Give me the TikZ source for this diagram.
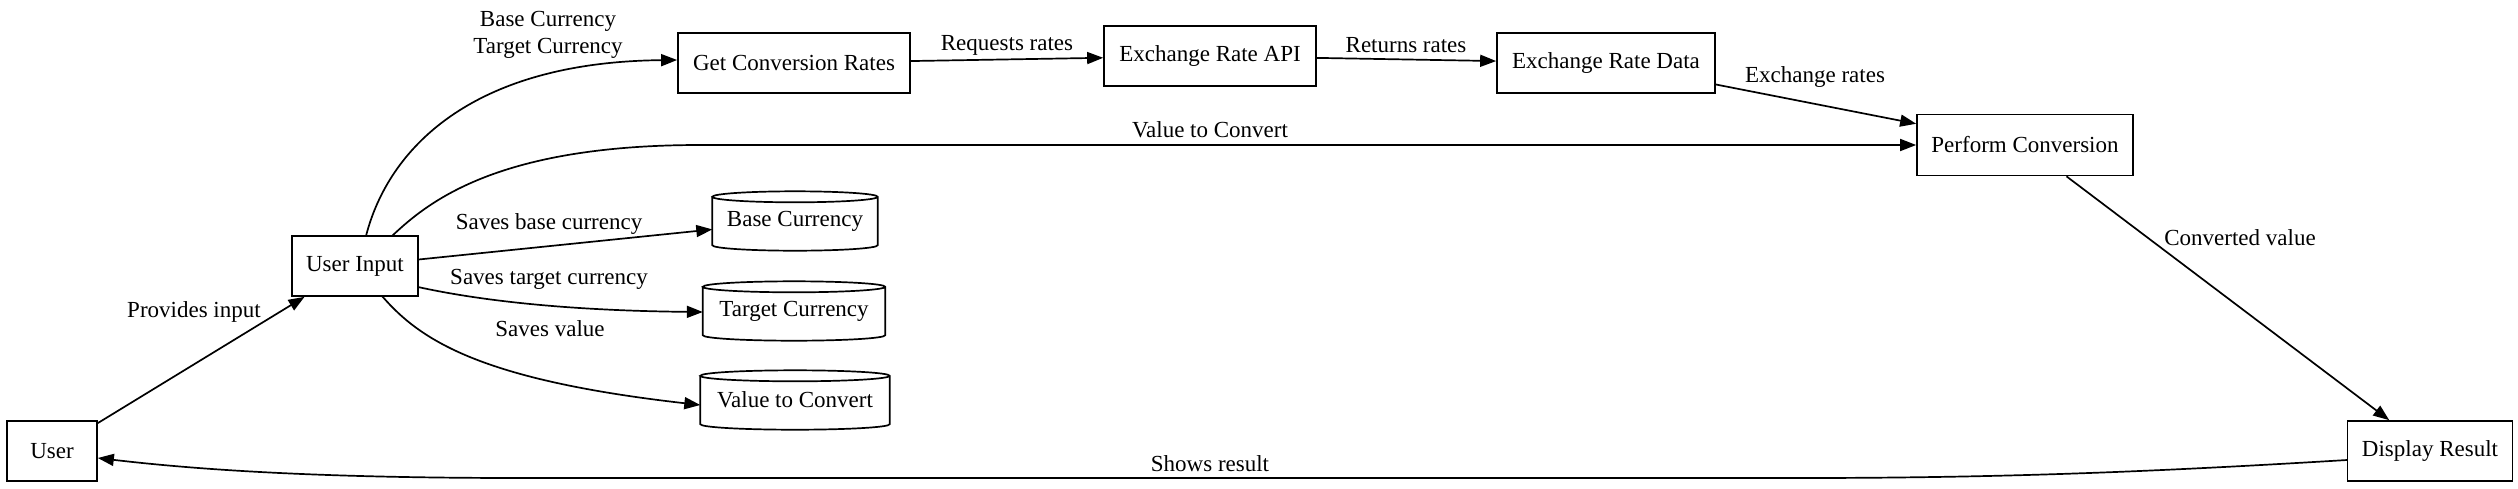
\documentclass[tikz,border=0pt]{standalone}
\usepackage{fontspec}
\setmainfont{Liberation Serif}
\usetikzlibrary{arrows.meta,calc}
\begin{document}
\begin{tikzpicture}[x=1pt,y=-1pt,
  every node/.style={font=\fontsize{23}{27}\selectfont, inner sep=0pt},
  box/.style={draw, line width=1.7pt, minimum height=60pt},
  store/.style={minimum height=59pt},
  lbl/.style={fill=none, align=center},
  edge/.style={line width=1.7pt, -{Triangle[length=16pt,width=12pt]}}]
\useasboundingbox (0,0) rectangle (2518,488);
% nodes
\node[box, minimum width=90pt]  (user) at (52,451) {User};
\node[box, minimum width=126pt] (ui)   at (355,266) {User Input};
\node[box, minimum width=232pt] (gcr)  at (794,63) {Get Conversion Rates};
\node[box, minimum width=212pt] (api)  at (1210,56) {Exchange Rate API};
\node[box, minimum width=218pt] (erd)  at (1606,63) {Exchange Rate Data};
\node[box, minimum width=216pt, minimum height=61pt] (pc) at (2025,145) {Perform Conversion};
\node[box, minimum width=165pt] (dr)   at (2430,451) {Display Result};
\node[store, minimum width=165pt] (bc) at (795,221) {Base Currency};
\node[store, minimum width=182pt] (tc) at (794,311) {Target Currency};
\node[store, minimum width=189pt] (vc) at (795,400) {Value to Convert};
% cylinders
\foreach \nm in {bc,tc,vc}{
  \draw[line width=1.7pt] let \p1=(\nm.north west), \p2=(\nm.south east) in
    (\x1,\y1-5.5pt) -- (\x1,\y2+5.5pt)
    arc[start angle=180,end angle=360,x radius={(\x2-\x1)/2},y radius=5.5pt]
    -- (\x2,\y1-5.5pt)
    arc[start angle=0,end angle=180,x radius={(\x2-\x1)/2},y radius=5.5pt]
    arc[start angle=180,end angle=360,x radius={(\x2-\x1)/2},y radius=5.5pt];
}
% coordinates
\coordinate (uiA) at (366,236);
\coordinate (uiB) at (392,236);
\coordinate (uiC) at (418,287);
\coordinate (uiD) at (382,296);
\coordinate (drA) at (2347,460);
% edges
\draw[edge] (user) -- (ui);
\draw[edge] (uiA) .. controls (388,150) and (470,62) .. ([yshift=3pt]gcr.west);
\draw[edge] (uiB) .. controls (430,200) and (500,145) .. (700,145) -- (pc.west);
\draw[edge] (ui) -- (bc);
\draw[edge] (uiC) .. controls (500,305) and (600,311) .. ([yshift=-1pt]tc.west);
\draw[edge] (uiD) .. controls (420,340) and (480,380) .. ([yshift=-5pt]vc.west);
\draw[edge] (gcr) -- (api);
\draw[edge] (api) -- (erd);
\draw[edge] (erd) -- (pc);
\draw[edge] (pc) -- (dr);
\draw[edge] (drA) .. controls (2150,472) and (2000,478) .. (1800,478) -- (520,478)
  .. controls (320,478) and (200,470) .. ([yshift=-7pt]user.east);
% labels
\node[lbl] (l1) at (194,312) {Provides input};
\node[lbl] (l2) at (548,35) {Base Currency\\Target Currency};
\node[lbl] (l3) at (1210,130) {Value to Convert};
\node[lbl] (l4) at (549,224) {Saves base currency};
\node[lbl] (l5) at (549,279) {Saves target currency};
\node[lbl] (l6) at (550,329) {Saves value};
\node[lbl] (l7) at (1007,45) {Requests rates};
\node[lbl] (l8) at (1406,45) {Returns rates};
\node[lbl] (l9) at (1815,77) {Exchange rates};
\node[lbl] (l10) at (2240,238) {Converted value};
\node[lbl] (l11) at (1210,464) {Shows result};
\end{tikzpicture}
\end{document}
